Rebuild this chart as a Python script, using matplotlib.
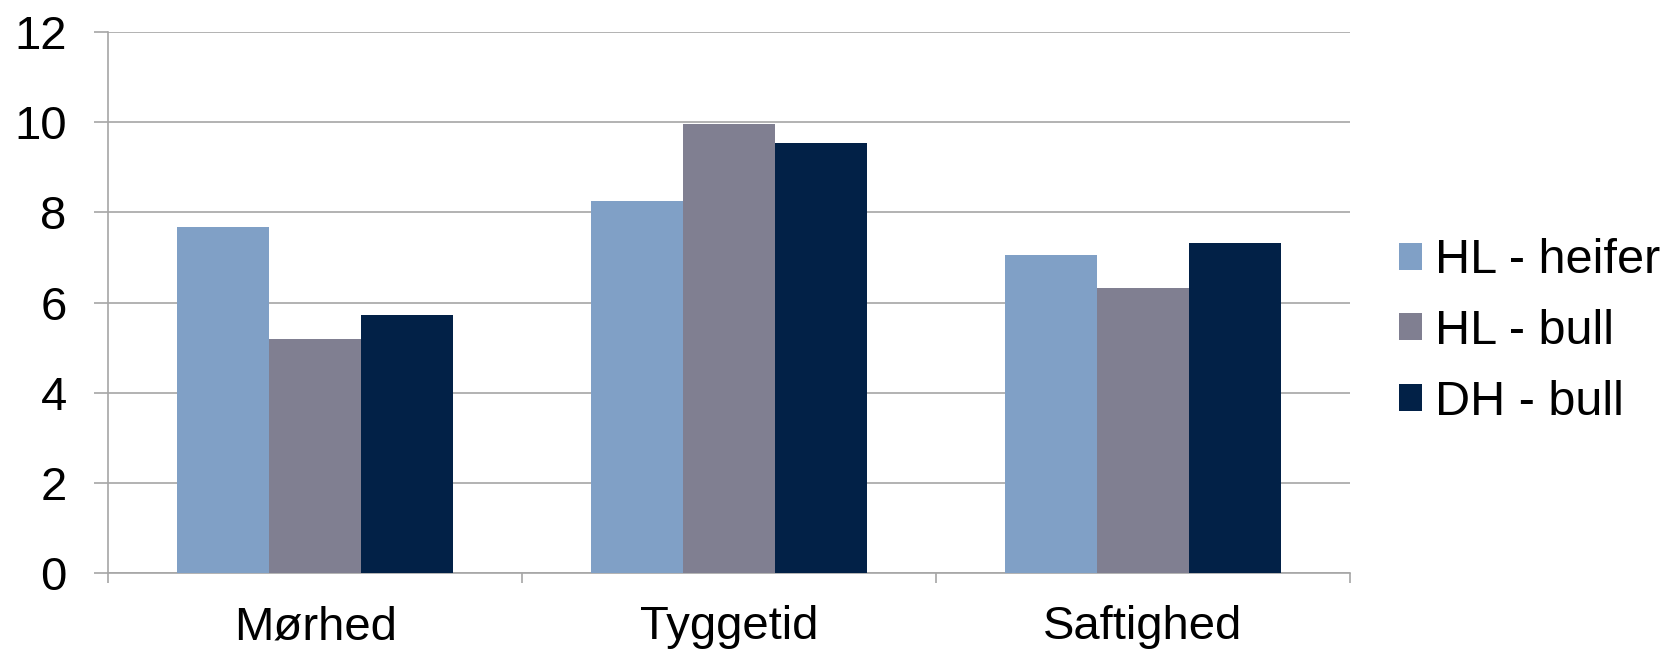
import numpy as np
import matplotlib
matplotlib.use("Agg")
import matplotlib.pyplot as plt
from matplotlib.patches import Patch

categories = ["Mørhed", "Tyggetid", "Saftighed"]
series_names = ["HL - heifer", "HL - bull", "DH - bull"]
hl_heifer = [7.68, 8.26, 7.06]
hl_bull = [5.19, 9.95, 6.32]
dh_bull = [5.73, 9.54, 7.32]
y_ticks = [0, 2, 4, 6, 8, 10, 12]

colors = ["#80A0C6", "#807F91", "#022147"]
grid_color = "#A6A6A6"

plt.rcParams["font.family"] = ["Liberation Sans", "DejaVu Sans"]

fig = plt.figure(figsize=(16.69, 6.56), dpi=100)
ax = fig.add_axes([0.0649, 0.126, 0.7438, 0.8257])

x = np.arange(len(categories))
width = 0.2224
for i, (vals, name) in enumerate(zip([hl_heifer, hl_bull, dh_bull], series_names)):
    ax.bar(x + (i - 1) * width, vals, width=width, color=colors[i], label=name, zorder=3)

ax.set_xlim(-0.5, len(categories) - 0.5)
ax.set_ylim(0, 12)
ax.set_yticks(y_ticks)
ax.set_yticklabels([str(t) for t in y_ticks], fontsize=34)
ax.yaxis.grid(True, color=grid_color, linewidth=1.2, zorder=0)
ax.tick_params(axis="y", length=10, width=1.2, color=grid_color, pad=20)

# category labels centred, ticks at the category boundaries
ax.set_xticks(x)
ax.set_xticklabels(categories, fontsize=34)
ax.tick_params(axis="x", which="major", length=0, pad=23)
ax.set_xticks(np.arange(-0.5, len(categories)), minor=True)
ax.tick_params(axis="x", which="minor", length=7, width=1.2, color=grid_color)

for side in ["top", "right"]:
    ax.spines[side].set_visible(False)
for side in ["left", "bottom"]:
    ax.spines[side].set_color(grid_color)
    ax.spines[side].set_linewidth(1.2)

handles = [Patch(facecolor=c, edgecolor="none") for c in colors]
fig.legend(handles, series_names, loc="center left", bbox_to_anchor=(0.8382, 0.4944),
           frameon=False, fontsize=35, handlelength=0.48, handleheight=0.48,
           handletextpad=0.27, labelspacing=0.53, borderaxespad=0, borderpad=0)

fig.savefig("out.png", dpi=100)
